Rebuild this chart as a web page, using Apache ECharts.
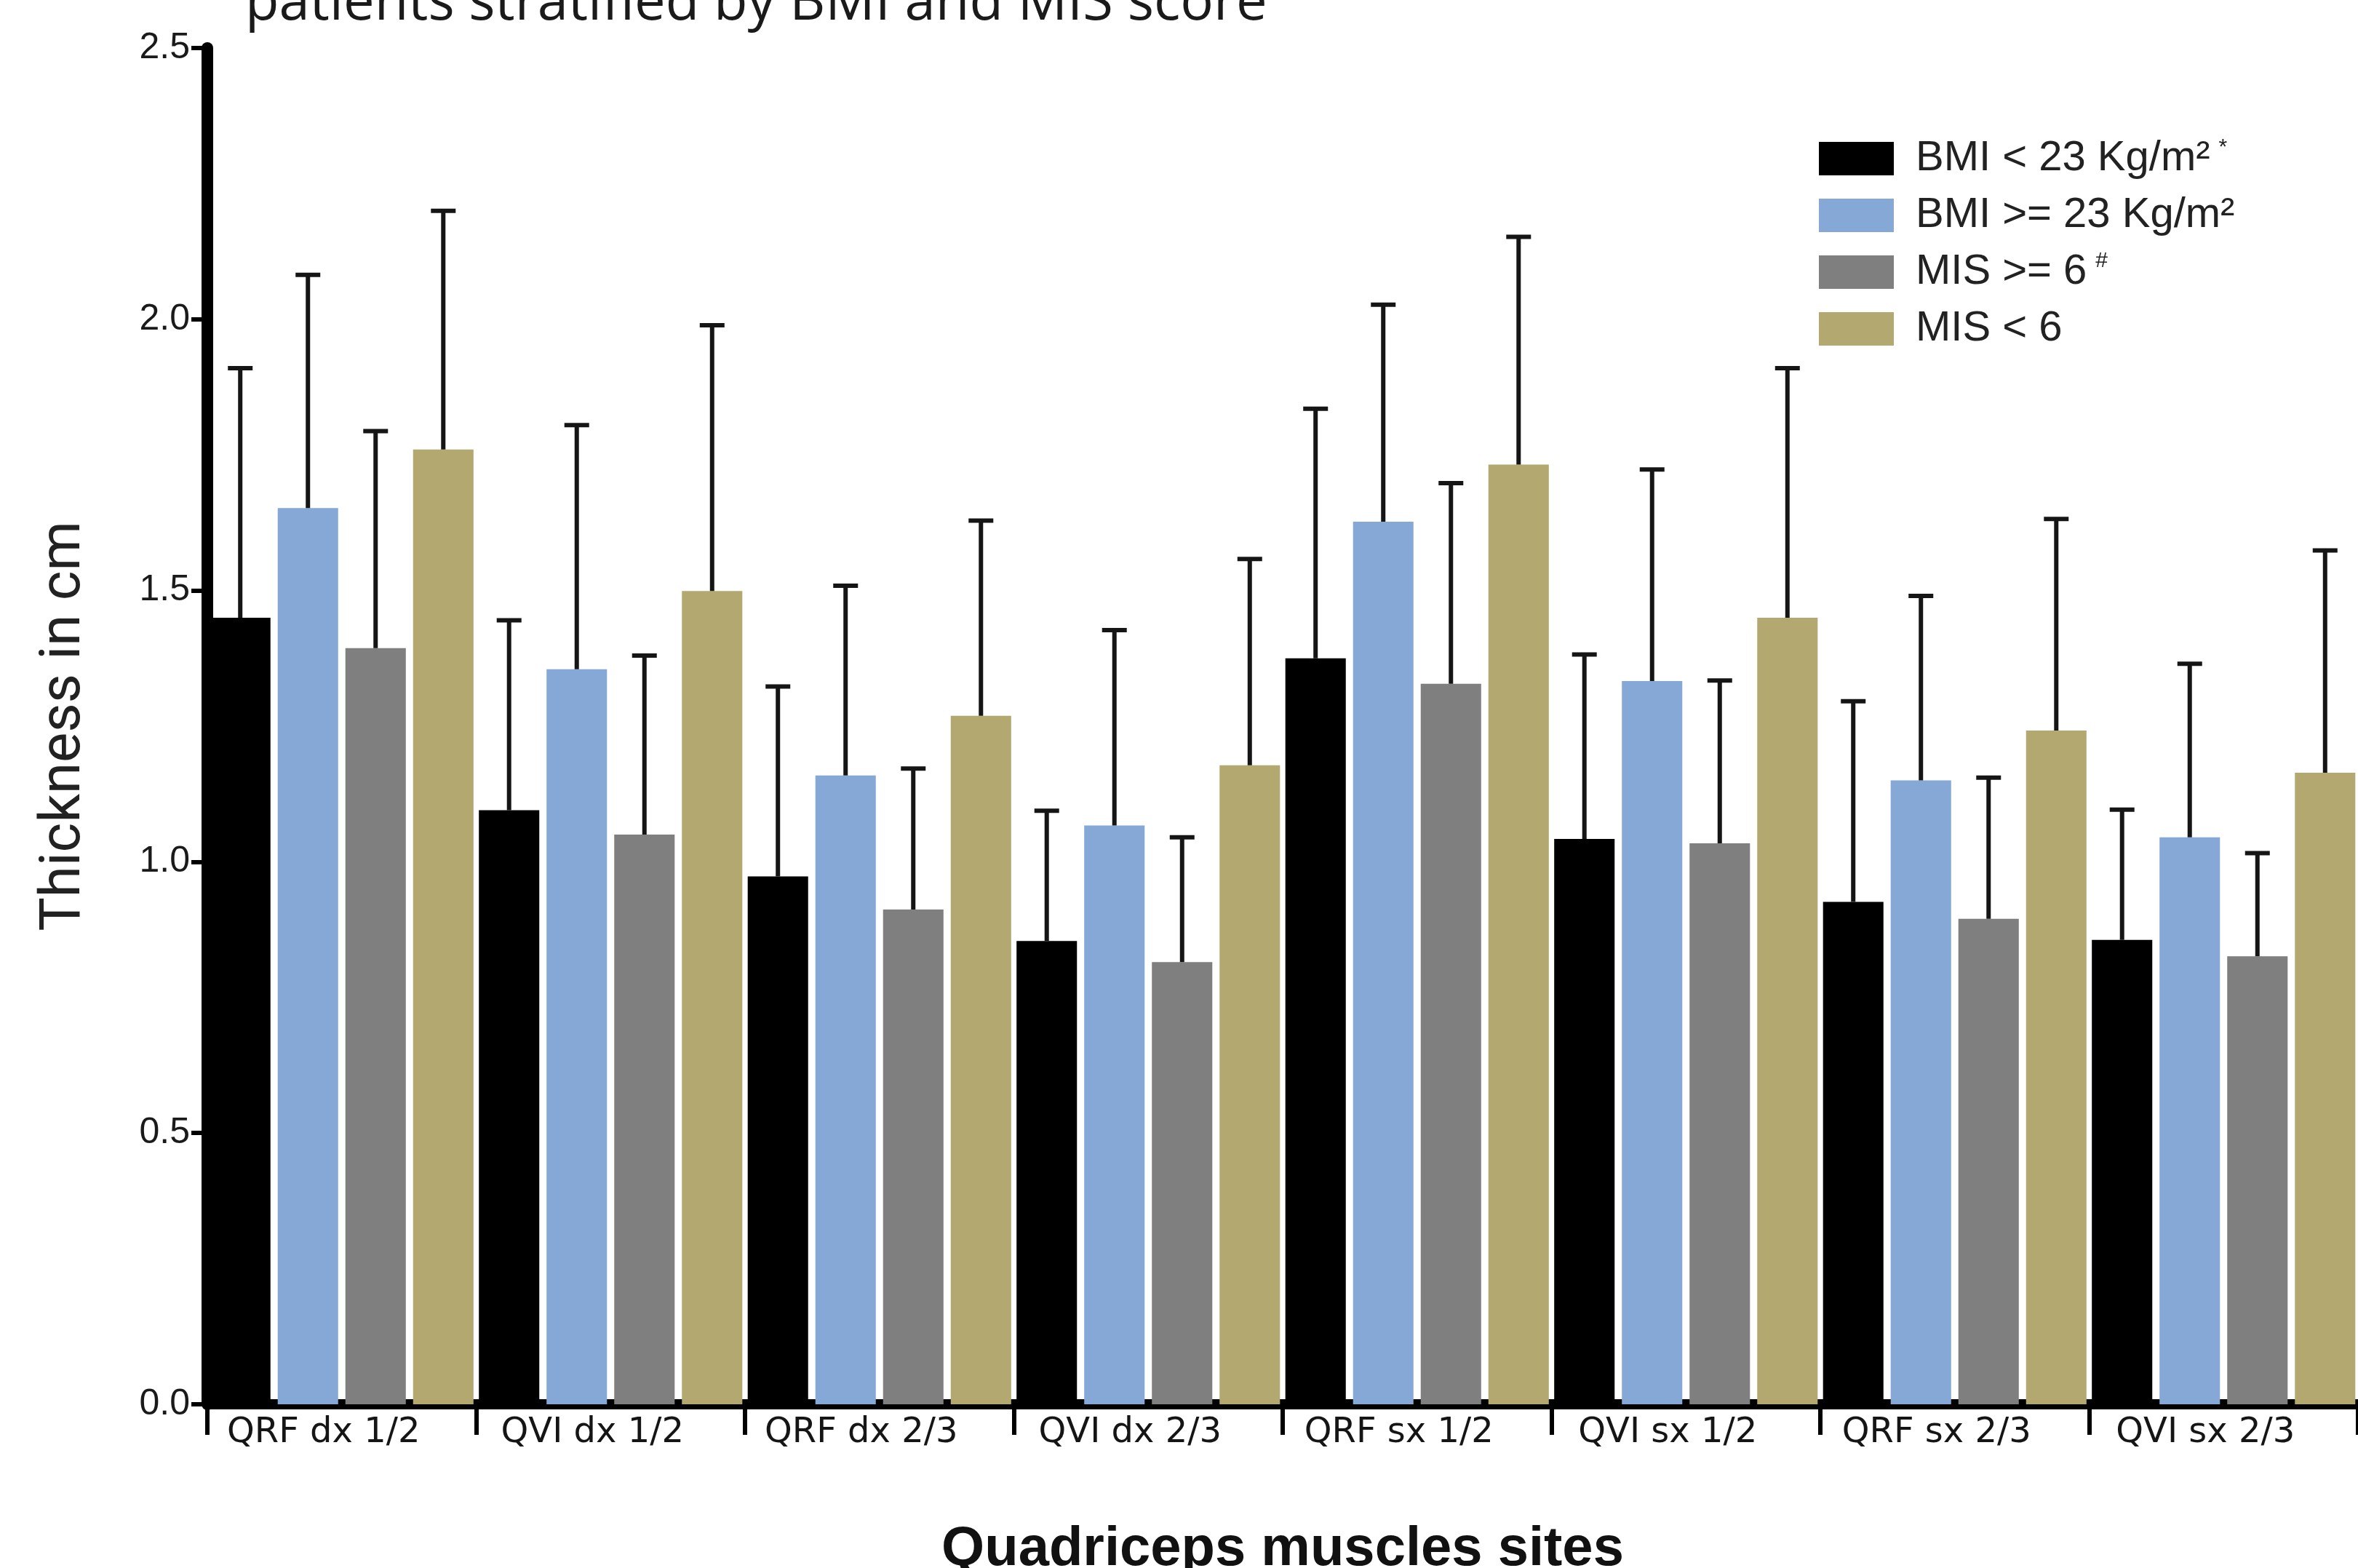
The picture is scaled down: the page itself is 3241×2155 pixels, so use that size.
<!DOCTYPE html>
<html>
<head>
<meta charset="utf-8">
<script src="https://cdn.jsdelivr.net/npm/echarts@6/dist/echarts.min.js"></script>
<style>
  html, body { margin: 0; padding: 0; background: #fff; }
  #chart { width: 3241px; height: 2155px; }
</style>
</head>
<body>
<div id="chart"></div>
<script>
const sites = ['QRF dx 1/2', 'QVI dx 1/2', 'QRF dx 2/3', 'QVI dx 2/3', 'QRF sx 1/2', 'QVI sx 1/2', 'QRF sx 2/3', 'QVI sx 2/3']
const groupNames = ['BMI < 23 Kg/m²', 'BMI >= 23 Kg/m²', 'MIS >= 6', 'MIS < 6']
const groupMarks = ['*', '', '#', '']
const yTicks = [0, 0.5, 1.0, 1.5, 2.0, 2.5]

// mean thickness (cm)
const bmiLow = [1.45, 1.095, 0.973, 0.854, 1.375, 1.042, 0.926, 0.856]
const bmiHigh = [1.652, 1.355, 1.159, 1.067, 1.627, 1.333, 1.15, 1.045]
const misHigh = [1.394, 1.05, 0.912, 0.815, 1.328, 1.034, 0.895, 0.826]
const misLow = [1.76, 1.499, 1.269, 1.178, 1.732, 1.45, 1.242, 1.164]

// standard deviation (upper whisker only)
const bmiLowSd = [0.46, 0.35, 0.35, 0.24, 0.46, 0.34, 0.37, 0.24]
const bmiHighSd = [0.43, 0.45, 0.35, 0.36, 0.40, 0.39, 0.34, 0.32]
const misHighSd = [0.40, 0.33, 0.26, 0.23, 0.37, 0.30, 0.26, 0.19]
const misLowSd = [0.44, 0.49, 0.36, 0.38, 0.42, 0.46, 0.39, 0.41]

const colors = ['#000000', '#86a8d6', '#7f7f7f', '#b3a86f']
const CAT_GAP = 0.02
const BAR_GAP = 0.12

const means = [bmiLow, bmiHigh, misHigh, misLow]
const sds = [bmiLowSd, bmiHighSd, misHighSd, misLowSd]

function errorSeries(k) {
  return {
    type: 'custom',
    name: groupNames[k] + ' sd',
    z: 5,
    silent: true,
    data: means[k].map((m, i) => [i, m, m + sds[k][i]]),
    encode: { x: 0, y: [1, 2] },
    renderItem(params, api) {
      const band = api.size([1, 0])[0]
      const inner = band * (1 - CAT_GAP)
      const w = inner / (4 + 3 * BAR_GAP)
      const cx = api.coord([api.value(0), 0])[0] - inner / 2 + k * w * (1 + BAR_GAP) + w / 2
      const yLow = api.coord([api.value(0), api.value(1)])[1]
      const yHigh = api.coord([api.value(0), api.value(2)])[1]
      const style = { stroke: '#151515', lineWidth: 6 }
      return {
        type: 'group',
        children: [
          { type: 'line', shape: { x1: cx, y1: yLow, x2: cx, y2: yHigh }, style },
          { type: 'line', shape: { x1: cx - 17, y1: yHigh, x2: cx + 17, y2: yHigh }, style },
        ],
      }
    },
  }
}

const chart = echarts.init(document.getElementById('chart'))
chart.setOption({
  backgroundColor: '#fff',
  animation: false,
  title: {
    text: 'patients stratified by BMI and MIS score',
    left: 337,
    top: -33,
    padding: 0,
    textStyle: { fontFamily: 'Open Sans', fontSize: 76, fontWeight: 'normal', color: '#1a1a1a', lineHeight: 76 },
  },
  legend: {
    data: groupNames,
    orient: 'vertical',
    left: 2495,
    top: 183,
    itemWidth: 103,
    itemHeight: 46,
    itemGap: 19,
    icon: 'rect',
    formatter: name => {
      const mark = groupMarks[groupNames.indexOf(name)]
      return mark ? name + '{sup|' + mark + '}' : name
    },
    textStyle: {
      fontFamily: 'Liberation Sans',
      fontSize: 58,
      lineHeight: 46,
      color: '#222',
      padding: [0, 0, 0, 25],
      rich: {
        sup: { fontFamily: 'Liberation Sans', fontSize: 30, lineHeight: 46, color: '#222', padding: [0, 0, 30, 12] },
      },
    },
  },
  grid: {
    left: 285,
    right: 0,
    top: 66,
    bottom: 225,
    outerBoundsMode: 'none',
  },
  xAxis: {
    type: 'category',
    data: sites,
    name: 'Quadriceps muscles sites',
    nameLocation: 'middle',
    nameGap: 162,
    nameTextStyle: { fontFamily: 'Liberation Sans', fontSize: 76, fontWeight: 'bold', color: '#111' },
    axisLine: { lineStyle: { color: '#000', width: 14 } },
    axisTick: { show: true, length: 42, lineStyle: { color: '#000', width: 6 } },
    axisLabel: { fontFamily: 'DejaVu Sans', fontSize: 48, color: '#151515', margin: 16, padding: [0, 50, 0, 0] },
  },
  yAxis: {
    type: 'value',
    min: 0,
    max: 2.5,
    interval: 0.5,
    name: 'Thickness in cm',
    nameLocation: 'middle',
    nameRotate: 90,
    nameGap: 157,
    nameTextStyle: { fontFamily: 'Roboto', fontSize: 78, color: '#222' },
    axisLine: { show: true, lineStyle: { color: '#000', width: 16 } },
    axisTick: { show: true, length: 22, lineStyle: { color: '#000', width: 6 } },
    axisLabel: {
      fontFamily: 'Liberation Sans',
      fontSize: 50,
      color: '#1a1a1a',
      margin: 24,
      formatter: v => yTicks.includes(v) ? v.toFixed(1) : '',
    },
    splitLine: { show: false },
  },
  series: [
    ...means.map((data, k) => ({
      type: 'bar',
      name: groupNames[k],
      data,
      barCategoryGap: CAT_GAP * 100 + '%',
      barGap: BAR_GAP * 100 + '%',
      itemStyle: { color: colors[k] },
      z: 2,
    })),
    ...means.map((d, k) => errorSeries(k)),
  ],
})
</script>
</body>
</html>
